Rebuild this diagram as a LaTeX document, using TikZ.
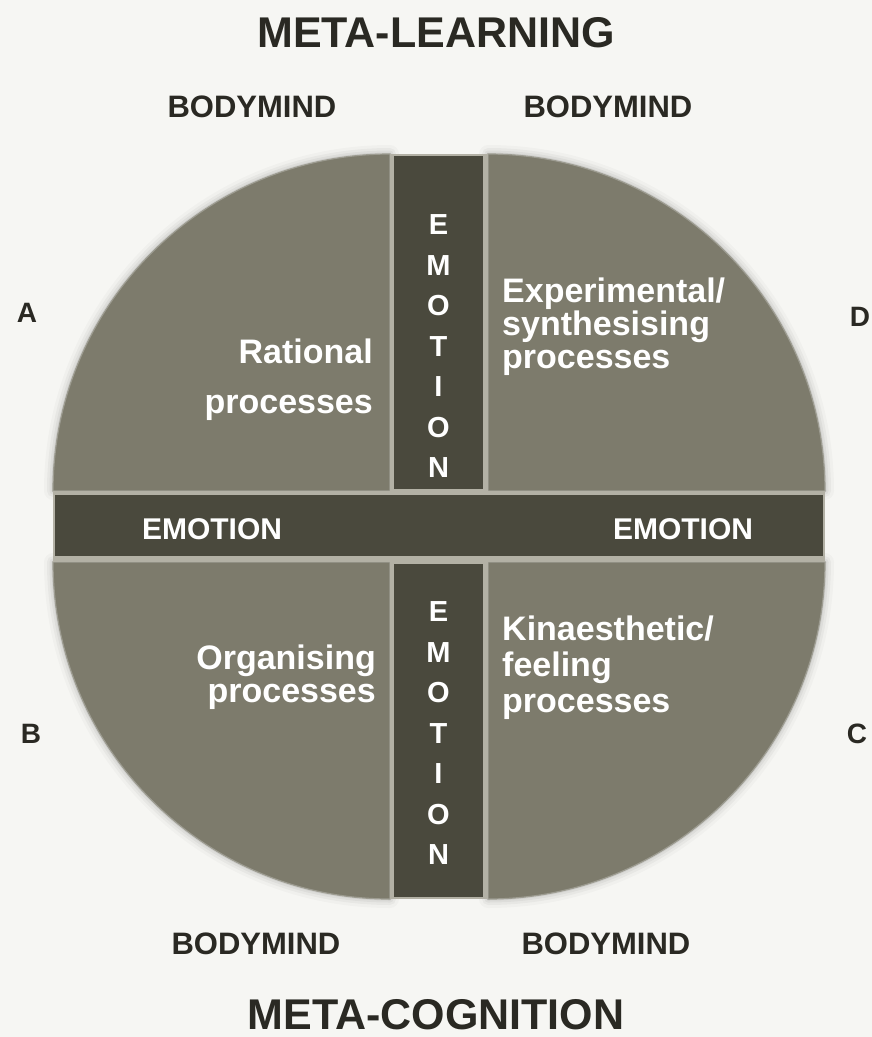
\documentclass[tikz,border=0pt]{standalone}
\usepackage{fontspec}
\setmainfont{Liberation Sans}
\usetikzlibrary{positioning}
\definecolor{quadfill}{HTML}{7D7B6C}
\definecolor{barfill}{HTML}{4A493D}
\definecolor{gapfill}{HTML}{B3B1A5}
\definecolor{paper}{HTML}{F6F6F3}
\definecolor{ink}{HTML}{2A2923}
\begin{document}
\begin{tikzpicture}[x=1pt,y=-1pt,
  quad/.style={fill=quadfill,draw=quadfill!75!white,line width=1.2},
  halo/.style={draw=black,opacity=#1,line join=round},
  bar/.style={fill=barfill},
  gap/.style={fill=gapfill},
  title/.style={text=ink,font=\fontsize{43}{43}\selectfont\bfseries},
  corner/.style={text=ink,font=\fontsize{28}{28}\selectfont\bfseries},
  body/.style={text=ink,font=\fontsize{31}{31}\selectfont\bfseries},
  quadtext/.style={text=white,font=\fontsize{34}{#1}\selectfont\bfseries,inner sep=0pt},
  letter/.style={text=white,font=\fontsize{29}{29}\selectfont\bfseries,inner sep=0pt}]
  \fill[paper] (0,0) rectangle (872,1037);
  \useasboundingbox (0,0) rectangle (872,1037);

  % soft shadow, then the four quarters
  \foreach \w/\o in {18/0.025,12/0.035,7/0.045,3/0.06}
    \foreach \cx/\cy/\a/\b in {390/491/180/270,488/491/270/360,390/562/90/180,488/562/0/90}
      \draw[halo=\o,line width=\w] (\cx,\cy) -- ++(\a:337) arc[start angle=\a,end angle=\b,radius=337] -- cycle;
  \foreach \cx/\cy/\a/\b in {390/491/180/270,488/491/270/360,390/562/90/180,488/562/0/90}
    \path[quad] (\cx,\cy) -- ++(\a:337) arc[start angle=\a,end angle=\b,radius=337] -- cycle;

  % the emotion bars
  \fill[gap] (53,491) rectangle (825,562);
  \fill[gap] (390,154) rectangle (488,899);
  \fill[bar] (55,495) rectangle (823,556);
  \fill[bar] (394,156) rectangle (483,489);
  \fill[bar] (394,564) rectangle (483,897);

  \foreach \c [count=\i] in {E,M,O,T,I,O,N} {
    \node[letter] (up\i) at (438.5,{225+40.5*(\i-1)}) {\c};
    \node[letter] (down\i) at (438.5,{612+40.5*(\i-1)}) {\c};
  }
  \node[quadtext=30,font=\fontsize{30}{30}\selectfont\bfseries] (emoleft) at (212,529) {EMOTION};
  \node[quadtext=30,font=\fontsize{30}{30}\selectfont\bfseries] (emoright) at (683,529) {EMOTION};

  % quarter labels (anchored at the last baseline)
  \node[quadtext=50,anchor=base east,align=right] (rational) at (373,413) {Rational\\processes};
  \node[quadtext=33,anchor=base west,align=left] (experimental) at (502,368) {Experimental/\\synthesising\\processes};
  \node[quadtext=33,anchor=base east,align=right] (organising) at (376,702) {Organising\\processes};
  \node[quadtext=36,anchor=base west,align=left] (kinaesthetic) at (502,712) {Kinaesthetic/\\feeling\\processes};

  % outside labels
  \node[title] (learning) at (436,33) {META-LEARNING};
  \node[title] (cognition) at (436,1015) {META-COGNITION};
  \node[body] (bmA) at (252,107) {BODYMIND};
  \node[body] (bmD) at (608,107) {BODYMIND};
  \node[body] (bmB) at (256,944) {BODYMIND};
  \node[body] (bmC) at (606,944) {BODYMIND};
  \node[corner] (A) at (27,313) {A};
  \node[corner] (D) at (860,317) {D};
  \node[corner] (B) at (31,734) {B};
  \node[corner] (C) at (857,734) {C};
\end{tikzpicture}
\end{document}
